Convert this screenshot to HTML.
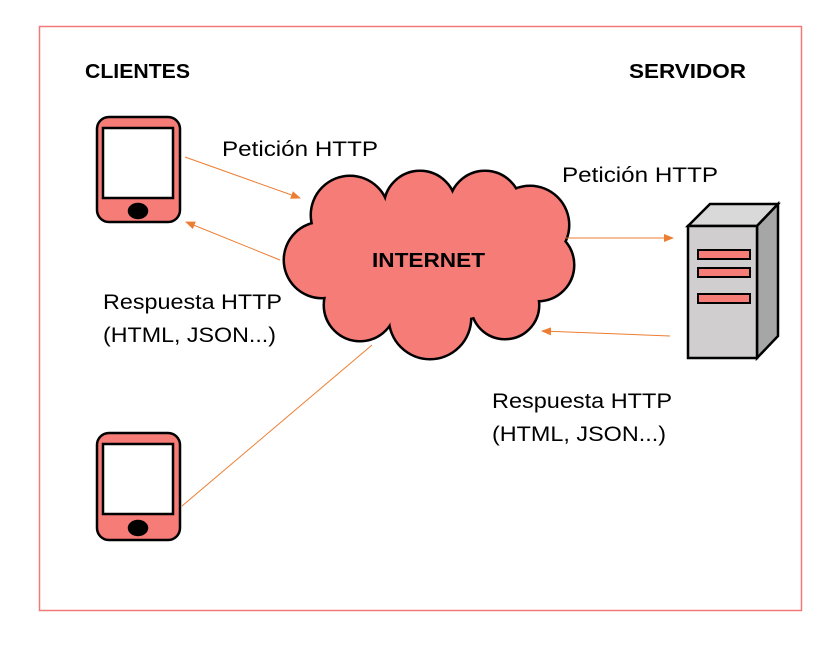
<!DOCTYPE html>
<html><head><style>body{margin:0;background:#fff}svg text{font-family:"Liberation Sans",sans-serif}</style></head><body>
<svg width="835" height="653" xmlns="http://www.w3.org/2000/svg">
<defs><marker id="a" markerWidth="10" markerHeight="8" refX="9" refY="4" orient="auto" markerUnits="userSpaceOnUse"><path d="M0,0 L10,4 L0,8 Z" fill="#ed7d31"/></marker></defs>
<rect x="39.5" y="26.5" width="762" height="584" fill="none" stroke="#f07a78" stroke-width="1.5"/>
<g lengthAdjust="spacingAndGlyphs">
<text x="85" y="78" font-size="20" font-weight="bold" textLength="105" lengthAdjust="spacingAndGlyphs">CLIENTES</text>
<text x="629" y="78" font-size="20" font-weight="bold" textLength="117" lengthAdjust="spacingAndGlyphs">SERVIDOR</text>
<text x="222" y="156" font-size="21" textLength="156" lengthAdjust="spacingAndGlyphs">Petición HTTP</text>
<text x="562" y="182" font-size="21" textLength="156" lengthAdjust="spacingAndGlyphs">Petición HTTP</text>
<text x="103" y="309" font-size="21" textLength="179" lengthAdjust="spacingAndGlyphs">Respuesta HTTP</text>
<text x="103" y="342" font-size="21" textLength="173" lengthAdjust="spacingAndGlyphs">(HTML, JSON...)</text>
<text x="492" y="408" font-size="21" textLength="180" lengthAdjust="spacingAndGlyphs">Respuesta HTTP</text>
<text x="492" y="441" font-size="21" textLength="174" lengthAdjust="spacingAndGlyphs">(HTML, JSON...)</text>
</g>
<g stroke="#000" stroke-width="2.5">
<rect x="97" y="117" width="83" height="105" rx="12" fill="#f67c78"/>
<rect x="103" y="128" width="70" height="70" fill="#fff"/>
<ellipse cx="138" cy="211" rx="9" ry="7" fill="#000"/>
<rect x="97" y="433" width="83" height="107" rx="12" fill="#f67c78"/>
<rect x="103" y="444" width="70" height="70" fill="#fff"/>
<ellipse cx="138" cy="528" rx="9" ry="7" fill="#000"/>
</g>
<g stroke="#000" stroke-width="5" fill="#f67c78">
<circle cx="350" cy="215" r="38"/><circle cx="420" cy="207" r="35"/><circle cx="485" cy="207" r="35"/>
<circle cx="530" cy="225" r="38"/><circle cx="538" cy="265" r="35"/><circle cx="505" cy="305" r="33"/>
<circle cx="430" cy="318" r="40"/><circle cx="360" cy="305" r="35"/><circle cx="322" cy="260" r="37"/>
</g>
<g fill="#f67c78">
<circle cx="350" cy="215" r="38"/><circle cx="420" cy="207" r="35"/><circle cx="485" cy="207" r="35"/>
<circle cx="530" cy="225" r="38"/><circle cx="538" cy="265" r="35"/><circle cx="505" cy="305" r="33"/>
<circle cx="430" cy="318" r="40"/><circle cx="360" cy="305" r="35"/><circle cx="322" cy="260" r="37"/>
<ellipse cx="430" cy="262" rx="110" ry="60"/>
</g>
<text x="372" y="267" font-size="20" font-weight="bold" textLength="113" lengthAdjust="spacingAndGlyphs">INTERNET</text>
<g stroke="#000" stroke-width="2.5">
<polygon points="688,226 710,204 778,204 757,226" fill="#d9d9d9"/>
<polygon points="757,226 778,204 778,336 757,358" fill="#a6a6a6"/>
<rect x="688" y="226" width="69" height="132" fill="#d0cece"/>
<rect x="698" y="250" width="52" height="9" fill="#f67c78" stroke-width="2"/>
<rect x="698" y="268" width="52" height="9" fill="#f67c78" stroke-width="2"/>
<rect x="698" y="294" width="52" height="9" fill="#f67c78" stroke-width="2"/>
</g>
<g stroke="#ed7d31" stroke-width="1" fill="none">
<line x1="185" y1="157" x2="300" y2="198" marker-end="url(#a)"/>
<line x1="280" y1="260" x2="186" y2="222" marker-end="url(#a)"/>
<line x1="566" y1="238" x2="673" y2="238" marker-end="url(#a)"/>
<line x1="670" y1="336" x2="542" y2="331" marker-end="url(#a)"/>
<line x1="182" y1="506" x2="372" y2="345"/>
</g>
</svg>
</body></html>
